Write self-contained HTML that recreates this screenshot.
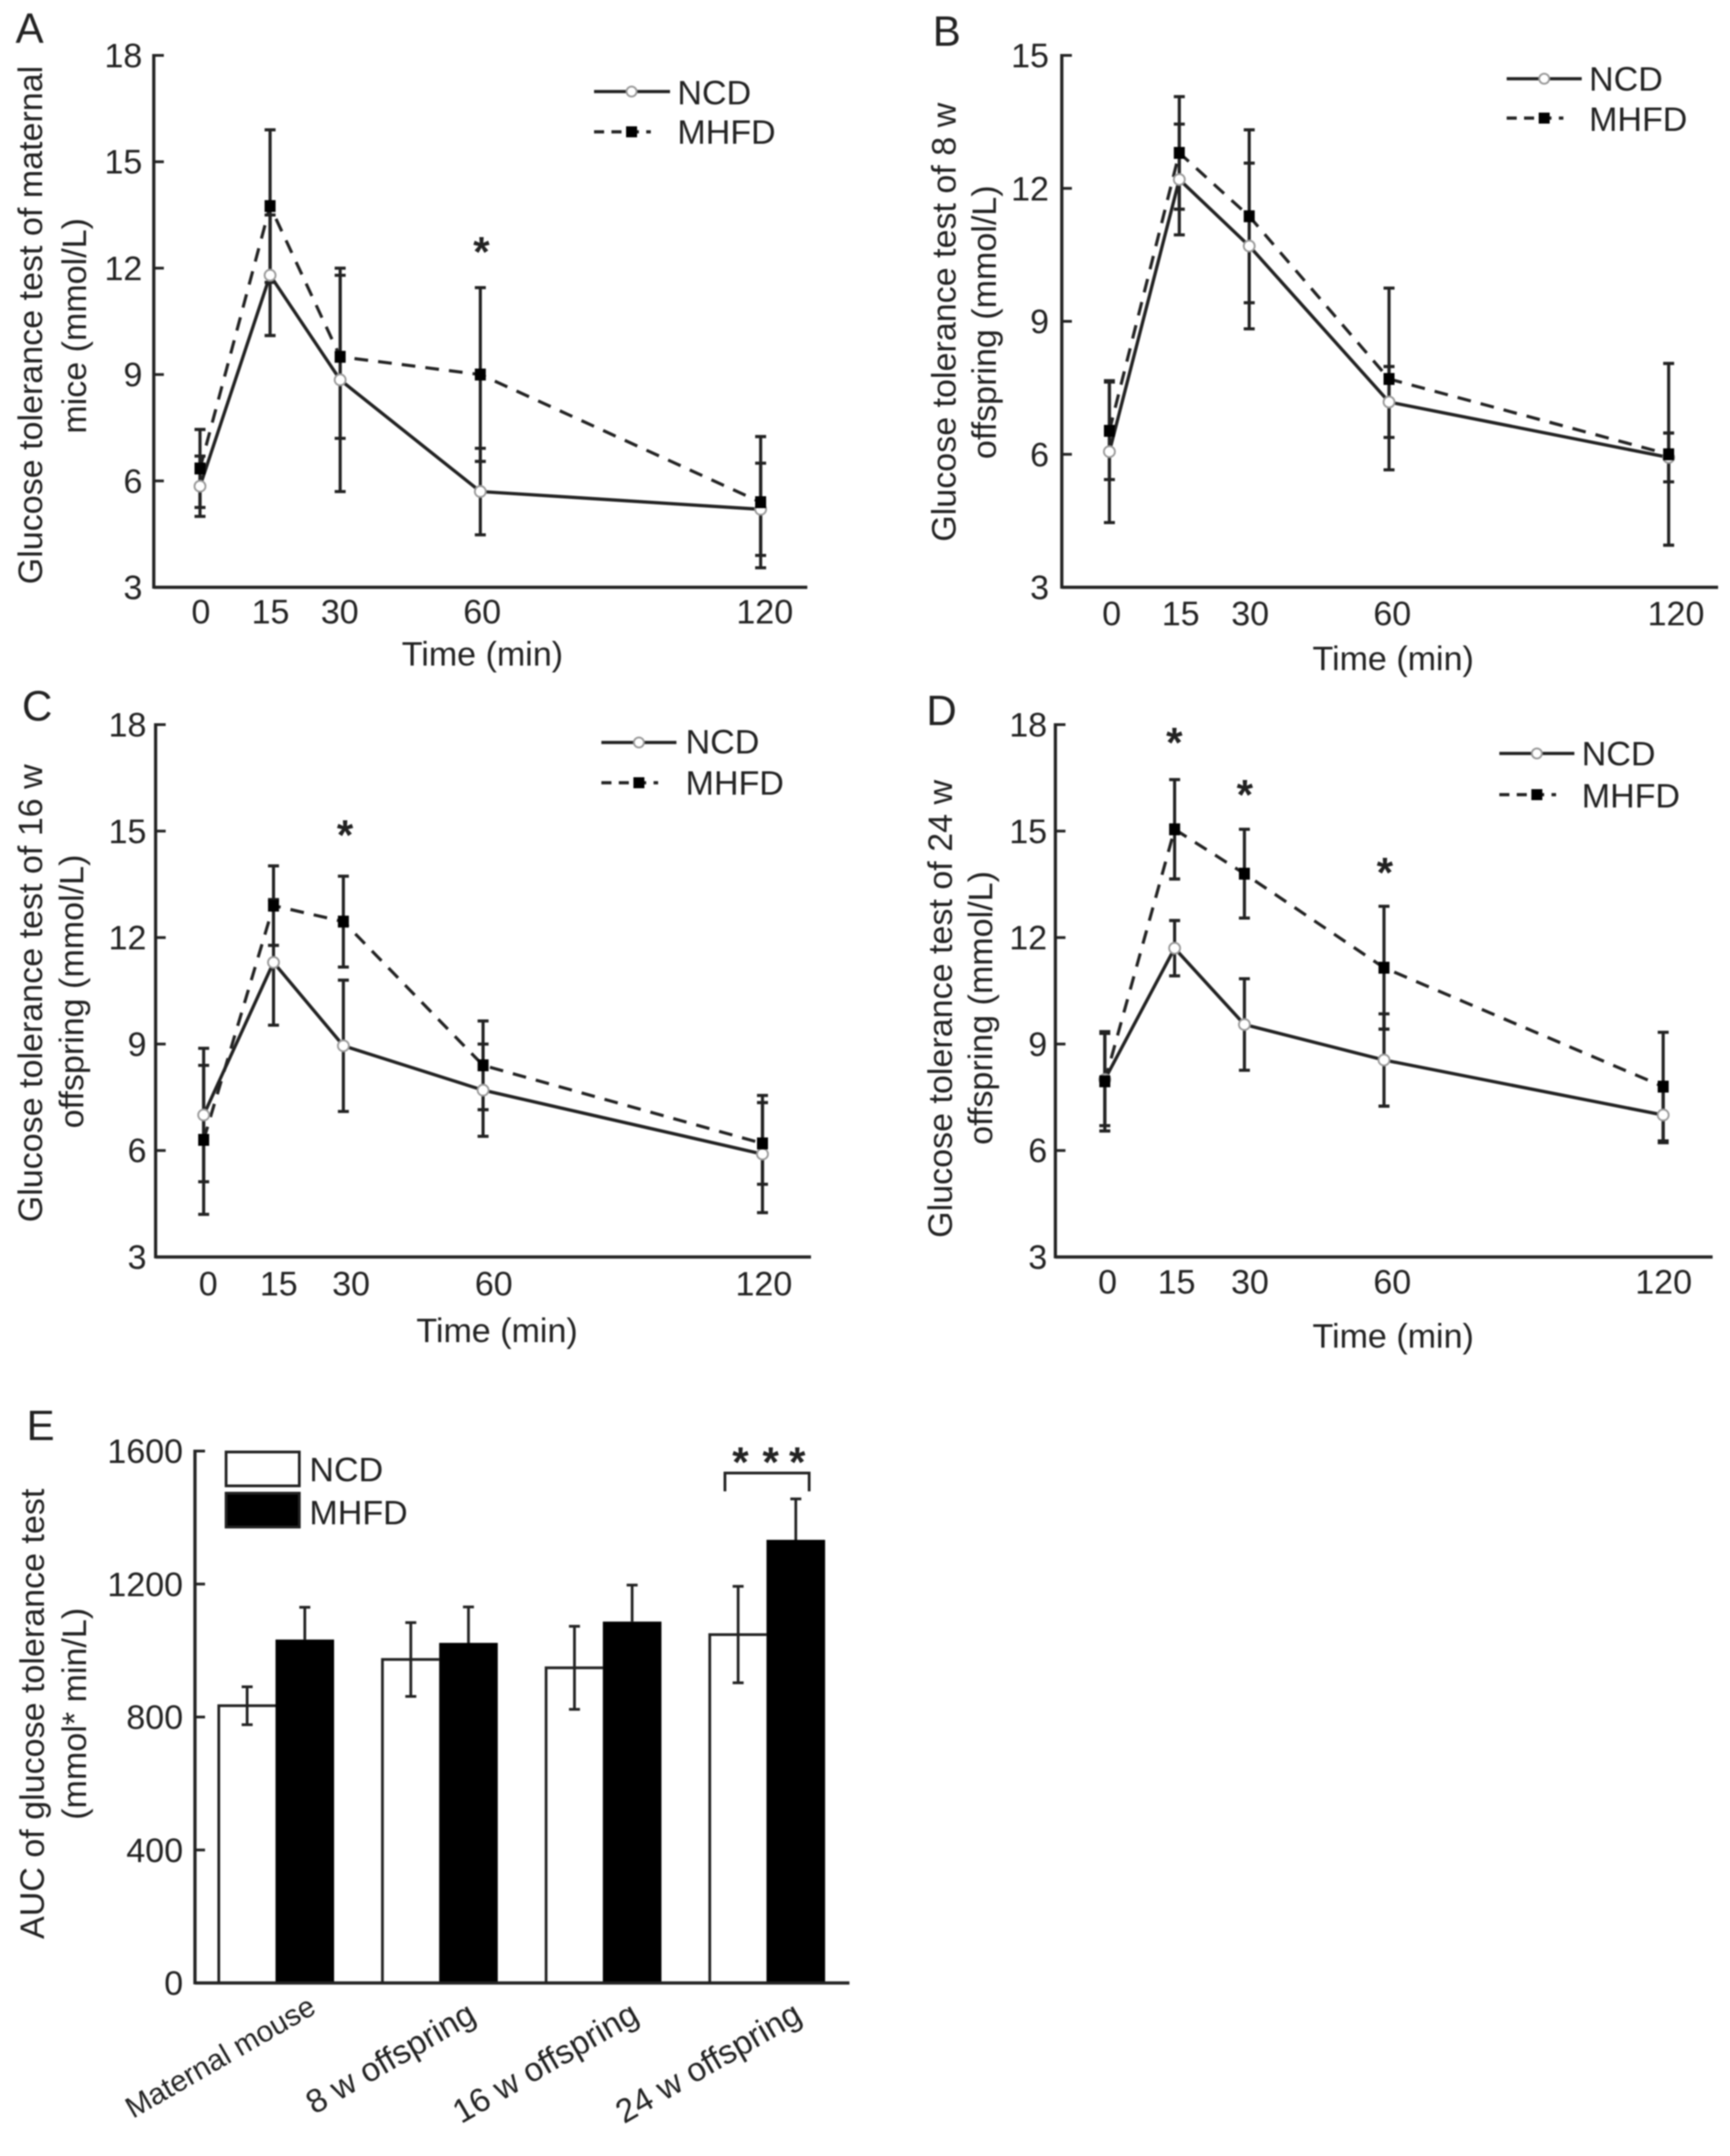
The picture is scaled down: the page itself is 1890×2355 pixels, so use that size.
<!DOCTYPE html>
<html lang="en">
<head>
<meta charset="utf-8">
<title>Glucose tolerance test panels</title>
<style>
html,body{margin:0;padding:0;background:#fff;}
svg{display:block;filter:blur(0.7px);}
text{font-family:"Liberation Sans",sans-serif;font-size:37.2px;fill:#222;}
.letter{font-size:46px;}
.star{font-size:46px;font-weight:bold;text-anchor:middle;}
.rot{text-anchor:middle;}
</style>
</head>
<body>
<svg id="figure" xmlns="http://www.w3.org/2000/svg" width="1890" height="2355" viewBox="0 0 1890 2355">
  <rect width="1890" height="2355" fill="#fff"/>

  <g id="panel-a">
    <text class="letter" x="17" y="47">A</text>
    <text class="rot" transform="translate(46,355) rotate(-90)">Glucose tolerance test of maternal</text>
    <text class="rot" transform="translate(94,356) rotate(-90)">mice (mmol/L)</text>
    <text class="rot" x="527" y="727">Time (min)</text>
    <text class="star" x="526" y="291">*</text>
    <g>
      <line x1="649" x2="732" y1="100" y2="100" stroke="#222" stroke-width="3.5"/>
      <circle cx="690" cy="100" r="5.5" fill="#fff" stroke="#999" stroke-width="2"/>
      <text x="740" y="114">NCD</text>
      <line x1="649" x2="711" y1="144" y2="144" stroke="#222" stroke-width="3.5" stroke-dasharray="11 8"/>
      <rect x="684" y="138" width="12" height="12" fill="#000"/>
      <text x="740" y="157">MHFD</text>
    </g>
  </g>

  <g id="panel-b">
    <text class="letter" x="1019" y="50">B</text>
    <text class="rot" transform="translate(1044,352) rotate(-90)">Glucose tolerance test of 8 w</text>
    <text class="rot" transform="translate(1088,352) rotate(-90)">offspring (mmol/L)</text>
    <text class="rot" x="1522" y="732">Time (min)</text>
    <g>
      <line x1="1646" x2="1728" y1="86" y2="86" stroke="#222" stroke-width="3.5"/>
      <circle cx="1687" cy="86" r="5.5" fill="#fff" stroke="#999" stroke-width="2"/>
      <text x="1736" y="99">NCD</text>
      <line x1="1646" x2="1708" y1="129" y2="129" stroke="#222" stroke-width="3.5" stroke-dasharray="11 8"/>
      <rect x="1681" y="123" width="12" height="12" fill="#000"/>
      <text x="1736" y="143">MHFD</text>
    </g>
  </g>

  <g id="panel-c">
    <text class="letter" x="24" y="787">C</text>
    <text class="rot" transform="translate(46,1085) rotate(-90)">Glucose tolerance test of 16 w</text>
    <text class="rot" transform="translate(91,1083) rotate(-90)">offspring (mmol/L)</text>
    <text class="rot" x="543" y="1466">Time (min)</text>
    <text class="star" x="377" y="928">*</text>
    <g>
      <line x1="657" x2="739" y1="811" y2="811" stroke="#222" stroke-width="3.5"/>
      <circle cx="698" cy="811" r="5.5" fill="#fff" stroke="#999" stroke-width="2"/>
      <text x="749" y="823">NCD</text>
      <line x1="657" x2="719" y1="855" y2="855" stroke="#222" stroke-width="3.5" stroke-dasharray="11 8"/>
      <rect x="692" y="849" width="12" height="12" fill="#000"/>
      <text x="749" y="868">MHFD</text>
    </g>
  </g>

  <g id="panel-d">
    <text class="letter" x="1012" y="792">D</text>
    <text class="rot" transform="translate(1040,1102) rotate(-90)">Glucose tolerance test of 24 w</text>
    <text class="rot" transform="translate(1084,1101) rotate(-90)">offspring (mmol/L)</text>
    <text class="rot" x="1522" y="1472">Time (min)</text>
    <text class="star" x="1283" y="827">*</text>
    <text class="star" x="1360" y="884">*</text>
    <text class="star" x="1513" y="969">*</text>
    <g>
      <line x1="1638" x2="1720" y1="823" y2="823" stroke="#222" stroke-width="3.5"/>
      <circle cx="1679" cy="823" r="5.5" fill="#fff" stroke="#999" stroke-width="2"/>
      <text x="1728" y="836">NCD</text>
      <line x1="1638" x2="1700" y1="868" y2="868" stroke="#222" stroke-width="3.5" stroke-dasharray="11 8"/>
      <rect x="1673" y="862" width="12" height="12" fill="#000"/>
      <text x="1728" y="882">MHFD</text>
    </g>
  </g>

  <g id="panel-e">
    <text class="letter" x="29" y="1573">E</text>
    <text class="rot" transform="translate(48,1872) rotate(-90)">AUC of glucose tolerance test</text>
    <text class="rot" transform="translate(94,1872) rotate(-90)">(mmol* min/L)</text>
    <g>
      <rect x="247" y="1586" width="80" height="37" fill="#fff" stroke="#222" stroke-width="3"/>
      <text x="338" y="1618">NCD</text>
      <rect x="247" y="1631" width="80" height="37" fill="#000" stroke="#222" stroke-width="3"/>
      <text x="338" y="1665">MHFD</text>
    </g>
    <path d="M792 1629V1609H884V1629" fill="none" stroke="#222" stroke-width="3"/>
    <text class="star" x="809" y="1613">*</text>
    <text class="star" x="842" y="1613">*</text>
    <text class="star" x="871" y="1613">*</text>
  </g>
</svg>

<script>
// ---- shared categories / ticks ----
const timePoints = [0, 15, 30, 60, 120];
const yTicksMaternal = [3, 6, 9, 12, 15, 18];
const yTicksEight = [3, 6, 9, 12, 15];
const yTicksAuc = [0, 400, 800, 1200, 1600];

// ---- panel A ----
const aNcd = [5.85, 11.8, 8.85, 5.7, 5.2];
const aNcdErr = [0.85, 1.7, 3.15, 1.22, 1.3];
const aMhfd = [6.35, 13.75, 9.5, 9.0, 5.4];
const aMhfdErr = [1.1, 2.15, 2.3, 2.45, 1.85];

// ---- panel B ----
const bNcd = [6.06, 12.2, 10.7, 7.18, 5.93];
const bNcdErr = [1.6, 1.25, 1.87, 0.8, 0.55];
const bMhfd = [6.53, 12.8, 11.37, 7.7, 6.0];
const bMhfdErr = [1.1, 1.27, 1.95, 2.05, 2.05];

// ---- panel C ----
const cNcd = [7.0, 11.3, 8.95, 7.7, 5.9];
const cNcdErr = [1.88, 1.77, 1.85, 1.3, 1.65];
const cMhfd = [6.3, 12.9, 12.45, 8.4, 6.2];
const cMhfdErr = [2.1, 1.12, 1.28, 1.25, 1.15];

// ---- panel D ----
const dNcd = [8.0, 11.7, 9.55, 8.55, 7.0];
const dNcdErr = [1.3, 0.78, 1.29, 1.3, 0.78];
const dMhfd = [7.95, 15.05, 13.8, 11.15, 7.8];
const dMhfdErr = [1.4, 1.4, 1.25, 1.73, 1.53];

// ---- panel E ----
const aucGroups = ['Maternal mouse', '8 w offspring', '16 w offspring', '24 w offspring'];
const aucNcd = [834, 973, 948, 1048];
const aucNcdErr = [57, 111, 125, 145];
const aucMhfd = [1033, 1023, 1087, 1333];
const aucMhfdErr = [97, 108, 110, 123];

const SVG_NS = 'http://www.w3.org/2000/svg';
const INK = '#222';

function mk(parent, tag, attrs) {
  const el = document.createElementNS(SVG_NS, tag);
  for (const k in attrs) el.setAttribute(k, attrs[k]);
  parent.appendChild(el);
  return el;
}
function linear(d0, d1, r0, r1) {
  return function (v) { return r0 + (v - d0) / (d1 - d0) * (r1 - r0); };
}

function drawAxes(group, o, yOf, yTicks) {
  const yAxis = mk(group, 'line', {x1: o.axisX, x2: o.axisX, y1: yOf(yTicks[yTicks.length - 1]) - 1.5, y2: yOf(yTicks[0]) + 1.5, stroke: INK, 'stroke-width': 3.5});
  
  
  const xAxis = mk(group, 'line', {x1: o.axisX, x2: o.axisEnd, y1: yOf(yTicks[0]), y2: yOf(yTicks[0]), stroke: INK, 'stroke-width': 3.5});
  
  
  yTicks.forEach(function (t, i) {
    if (i > 0) {
      const tick = mk(group, 'line', {x1: o.axisX, x2: o.axisX + 11, y1: yOf(t), y2: yOf(t), stroke: INK, 'stroke-width': 3});
      
      
    }
    const label = mk(group, 'text', {x: o.yLabelRight, y: yOf(t) + 13, 'text-anchor': 'end'});
    label.textContent = String(t);
    
    
  });
}

function drawErrors(group, xOf, yOf, vals, errs, seriesName) {
  vals.forEach(function (v, i) {
    const x = xOf(timePoints[i]);
    const top = yOf(v + errs[i]);
    const bottom = yOf(v - errs[i]);
    const bar = mk(group, 'path', {
      d: 'M' + (x - 6) + ' ' + top + 'H' + (x + 6) + 'M' + x + ' ' + top + 'V' + bottom + 'M' + (x - 6) + ' ' + bottom + 'H' + (x + 6),
      fill: 'none', stroke: INK, 'stroke-width': 3.4
    });
    
    
  });
}

function drawLinePanel(panelId, o, yTicks, ncd, ncdErr, mhfd, mhfdErr) {
  const group = document.getElementById(panelId);
  const xOf = linear(0, 120, o.x0, o.x120);
  const yOf = linear(yTicks[0], yTicks[yTicks.length - 1], o.yBottom, o.yTop);
  drawAxes(group, o, yOf, yTicks);

  timePoints.forEach(function (t, i) {
    const label = mk(group, 'text', {x: xOf(t) + o.tickShift[i], y: o.xLabelY, 'text-anchor': 'middle'});
    label.textContent = String(t);
    
    
  });

  const pts = function (vals) {
    return vals.map(function (v, i) { return xOf(timePoints[i]) + ',' + yOf(v); }).join(' ');
  };
  const ncdLine = mk(group, 'polyline', {points: pts(ncd), fill: 'none', stroke: INK, 'stroke-width': 3.6});
  
  
  const mhfdLine = mk(group, 'polyline', {points: pts(mhfd), fill: 'none', stroke: INK, 'stroke-width': 3.4, 'stroke-dasharray': '15 11'});
  
  

  drawErrors(group, xOf, yOf, ncd, ncdErr, 'ncd');
  drawErrors(group, xOf, yOf, mhfd, mhfdErr, 'mhfd');

  ncd.forEach(function (v, i) {
    const c = mk(group, 'circle', {cx: xOf(timePoints[i]), cy: yOf(v), r: 6, fill: '#fff', stroke: '#999', 'stroke-width': 2});
    
    
  });
  mhfd.forEach(function (v, i) {
    const s = mk(group, 'rect', {x: xOf(timePoints[i]) - 6, y: yOf(v) - 6.5, width: 12, height: 13, fill: '#000'});
    
    
  });
}

drawLinePanel('panel-a', {axisX: 168, axisEnd: 882, yTop: 60.5, yBottom: 641.5, x0: 218.5, x120: 831, yLabelRight: 155.5, xLabelY: 681, tickShift: [1, 0.5, -0.5, 2, 4.5]},
  yTicksMaternal, aNcd, aNcdErr, aMhfd, aMhfdErr);
drawLinePanel('panel-b', {axisX: 1160, axisEnd: 1877, yTop: 60.5, yBottom: 641.5, x0: 1212, x120: 1823, yLabelRight: 1146, xLabelY: 683, tickShift: [2.5, 1.5, 1, 3.5, 8]},
  yTicksEight, bNcd, bNcdErr, bMhfd, bMhfdErr);
drawLinePanel('panel-c', {axisX: 170, axisEnd: 886, yTop: 791.5, yBottom: 1373, x0: 222.5, x120: 833, yLabelRight: 160, xLabelY: 1415, tickShift: [5, 5.7, 8.4, 11.7, 1.5]},
  yTicksMaternal, cNcd, cNcdErr, cMhfd, cMhfdErr);
drawLinePanel('panel-d', {axisX: 1153, axisEnd: 1871, yTop: 791.5, yBottom: 1373, x0: 1207, x120: 1817, yLabelRight: 1144, xLabelY: 1413, tickShift: [3, 2.2, 6, 9, 0.5]},
  yTicksMaternal, dNcd, dNcdErr, dMhfd, dMhfdErr);

(function drawBarPanel() {
  const group = document.getElementById('panel-e');
  const o = {axisX: 213, axisEnd: 928, yLabelRight: 200};
  const yOf = linear(0, 1600, 2166, 1585);
  const groupX = function (i) { return 239 + i * 178.8; };
  const barW = 62;
  const labelEndX = function (i) { return i === 0 ? 347 : 344 + i * 178; };
  const labelEndY = function (i) { return i === 0 ? 2198 : 2207; };

  aucGroups.forEach(function (name, i) {
    const x = groupX(i);
    const nx = x + barW / 2;
    const mx = x + barW + barW / 2 + 1;

    const nErr = mk(group, 'path', {
      d: 'M' + (nx - 6) + ' ' + yOf(aucNcd[i] + aucNcdErr[i]) + 'H' + (nx + 6) + 'M' + nx + ' ' + yOf(aucNcd[i] + aucNcdErr[i]) + 'V' + yOf(aucNcd[i] - aucNcdErr[i]) + 'M' + (nx - 6) + ' ' + yOf(aucNcd[i] - aucNcdErr[i]) + 'H' + (nx + 6),
      fill: 'none', stroke: INK, 'stroke-width': 3
    });
    
    

    const nBar = mk(group, 'path', {
      d: 'M' + x + ' ' + yOf(0) + 'V' + yOf(aucNcd[i]) + 'H' + (x + barW),
      fill: 'none', stroke: INK, 'stroke-width': 3
    });
    
    

    const mErr = mk(group, 'path', {
      d: 'M' + (mx - 6) + ' ' + yOf(aucMhfd[i] + aucMhfdErr[i]) + 'H' + (mx + 6) + 'M' + mx + ' ' + yOf(aucMhfd[i] + aucMhfdErr[i]) + 'V' + yOf(aucMhfd[i]),
      fill: 'none', stroke: INK, 'stroke-width': 3
    });
    
    

    const mBar = mk(group, 'rect', {x: x + barW, y: yOf(aucMhfd[i]), width: barW + 2, height: yOf(0) - yOf(aucMhfd[i]), fill: '#000'});
    
    

    const label = mk(group, 'text', {
      transform: 'translate(' + labelEndX(i) + ',' + labelEndY(i) + ') rotate(-30)',
      'text-anchor': 'end',
      style: 'font-size:' + (i === 0 ? 32.5 : 36.5) + 'px'
    });
    label.textContent = name;
    
    
  });

  drawAxes(group, o, yOf, yTicksAuc);
})();
</script>
</body>
</html>
